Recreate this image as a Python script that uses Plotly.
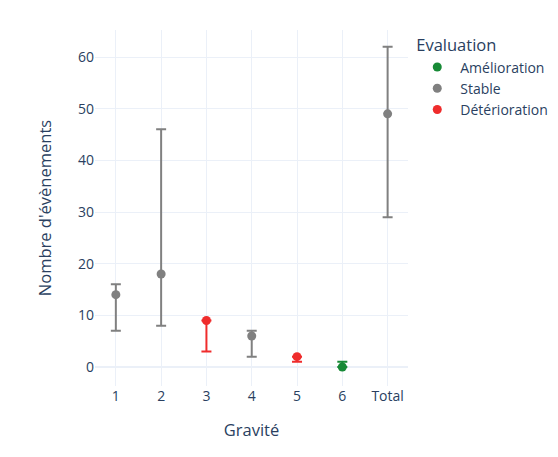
import plotly.graph_objects as go

categories = ["1", "2", "3", "4", "5", "6", "Total"]

groups = ["Amélioration", "Stable", "Détérioration"]
colors = {"Amélioration": "#178a36", "Stable": "#808080", "Détérioration": "#ef2c2c"}

amel_x = ["6"]
amel_y = [0]
amel_hi = [1]
amel_lo = [0]

stab_x = ["1", "2", "4", "Total"]
stab_y = [14, 18, 6, 49]
stab_hi = [16, 46, 7, 62]
stab_lo = [7, 8, 2, 29]

det_x = ["3", "5"]
det_y = [9, 2]
det_hi = [9, 2]
det_lo = [3, 1]

data = {
    "Amélioration": (amel_x, amel_y, amel_hi, amel_lo),
    "Stable": (stab_x, stab_y, stab_hi, stab_lo),
    "Détérioration": (det_x, det_y, det_hi, det_lo),
}

fig = go.Figure()
for g in groups:
    x, y, hi, lo = data[g]
    fig.add_trace(go.Scatter(
        x=x, y=y, mode="markers", name=g,
        marker=dict(color=colors[g], size=9),
        error_y=dict(type="data", symmetric=False,
                     array=[h - v for h, v in zip(hi, y)],
                     arrayminus=[v - l for l, v in zip(lo, y)],
                     color=colors[g], thickness=2, width=5),
    ))

fig.update_layout(
    template="plotly_white",
    width=558, height=457,
    font=dict(family="Open Sans, Verdana, sans-serif", size=14, color="#2a3f5f"),
    margin=dict(l=87, r=158, t=22, b=79),
    legend=dict(title=dict(text="Evaluation", font=dict(size=16.5)),
                font=dict(size=14), itemwidth=36),
    xaxis=dict(title=dict(text="Gravité", font=dict(size=16.5), standoff=20), type="category",
               categoryorder="array", categoryarray=categories,
               range=[-0.46, 6.45], tickfont=dict(size=14)),
    yaxis=dict(title=dict(text="Nombre d'évènements", font=dict(size=16.5), standoff=22),
               range=[-3.68, 65.23], dtick=10, tickfont=dict(size=14)),
)

fig.write_html("out.html")
